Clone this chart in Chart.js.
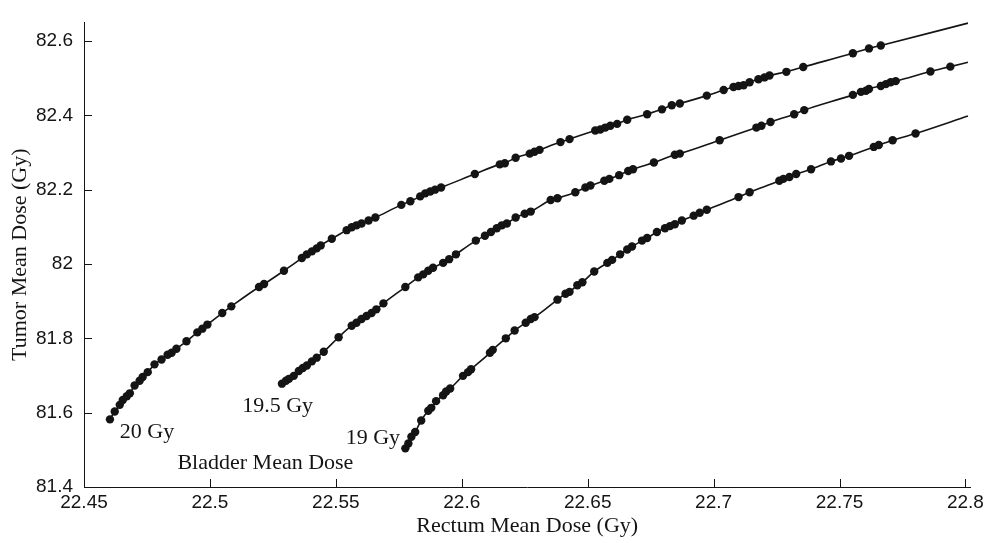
<!DOCTYPE html>
<html>
<head>
<meta charset="utf-8">
<title>Tumor vs Rectum Mean Dose</title>
<script src="https://cdn.jsdelivr.net/npm/chart.js@4.4.1/dist/chart.umd.min.js"></script>
<style>
  html, body { margin: 0; padding: 0; background: #fff; }
  #wrap { width: 988px; height: 543px; }
</style>
</head>
<body>
<div id="wrap"><canvas id="doseChart" width="988" height="543"></canvas></div>
<script>
// Tradeoff curves, one per bladder mean dose level
const dose20X = [22.4603, 22.4622, 22.4642, 22.4654, 22.4670, 22.4682, 22.4701, 22.4721, 22.4733, 22.4753,
  22.4780, 22.4808, 22.4832, 22.4848, 22.4867, 22.4907, 22.4950, 22.4970, 22.4990, 22.5049,
  22.5085, 22.5195, 22.5215, 22.5294, 22.5365, 22.5385, 22.5405, 22.5424, 22.5440, 22.5484,
  22.5543, 22.5563, 22.5582, 22.5602, 22.5630, 22.5657, 22.5760, 22.5796, 22.5835, 22.5855,
  22.5875, 22.5894, 22.5918, 22.6052, 22.6151, 22.6171, 22.6214, 22.6270, 22.6289, 22.6309,
  22.6392, 22.6428, 22.6530, 22.6550, 22.6570, 22.6590, 22.6617, 22.6657, 22.6736, 22.6795,
  22.6834, 22.6866, 22.6973, 22.7040, 22.7079, 22.7099, 22.7119, 22.7143, 22.7178, 22.7202,
  22.7222, 22.7289, 22.7356, 22.7553, 22.7617, 22.7664, 22.8010];
const dose20Y = [81.582, 81.603, 81.621, 81.634, 81.644, 81.652, 81.673, 81.686, 81.696, 81.709,
  81.730, 81.743, 81.756, 81.761, 81.772, 81.792, 81.816, 81.826, 81.837, 81.868,
  81.886, 81.938, 81.946, 81.982, 82.016, 82.026, 82.034, 82.042, 82.050, 82.068,
  82.091, 82.099, 82.104, 82.109, 82.117, 82.125, 82.159, 82.169, 82.182, 82.190,
  82.195, 82.200, 82.206, 82.242, 82.268, 82.271, 82.286, 82.297, 82.302, 82.307,
  82.328, 82.336, 82.359, 82.362, 82.367, 82.372, 82.377, 82.388, 82.403, 82.416,
  82.427, 82.432, 82.453, 82.468, 82.476, 82.479, 82.481, 82.489, 82.497, 82.502,
  82.507, 82.517, 82.530, 82.567, 82.580, 82.588, 82.648];

const dose195X = [22.5286, 22.5302, 22.5314, 22.5333, 22.5353, 22.5369, 22.5385, 22.5405, 22.5424, 22.5452,
  22.5511, 22.5563, 22.5582, 22.5602, 22.5622, 22.5642, 22.5661, 22.5689, 22.5776, 22.5827,
  22.5847, 22.5867, 22.5886, 22.5926, 22.5950, 22.5977, 22.6056, 22.6092, 22.6116, 22.6139,
  22.6159, 22.6179, 22.6214, 22.6250, 22.6274, 22.6353, 22.6380, 22.6451, 22.6491, 22.6511,
  22.6566, 22.6586, 22.6625, 22.6661, 22.6680, 22.6763, 22.6846, 22.6866, 22.7024, 22.7170,
  22.7190, 22.7226, 22.7320, 22.7360, 22.7553, 22.7585, 22.7605, 22.7617, 22.7664, 22.7684,
  22.7703, 22.7723, 22.7861, 22.7940, 22.8010];
const dose195Y = [81.678, 81.686, 81.691, 81.699, 81.712, 81.720, 81.727, 81.738, 81.748, 81.764,
  81.803, 81.834, 81.842, 81.852, 81.860, 81.868, 81.878, 81.894, 81.938, 81.964,
  81.972, 81.982, 81.990, 82.003, 82.013, 82.026, 82.063, 82.076, 82.086, 82.096,
  82.104, 82.109, 82.125, 82.135, 82.141, 82.172, 82.177, 82.193, 82.206, 82.211,
  82.224, 82.229, 82.239, 82.250, 82.255, 82.273, 82.294, 82.297, 82.333, 82.367,
  82.372, 82.382, 82.403, 82.414, 82.455, 82.463, 82.466, 82.471, 82.479, 82.484,
  82.489, 82.492, 82.518, 82.531, 82.543];

const dose19X = [22.5776, 22.5788, 22.5800, 22.5815, 22.5839, 22.5867, 22.5879, 22.5898, 22.5926, 22.5938,
  22.5954, 22.6005, 22.6025, 22.6037, 22.6112, 22.6123, 22.6175, 22.6210, 22.6254, 22.6274,
  22.6289, 22.6380, 22.6412, 22.6428, 22.6459, 22.6479, 22.6526, 22.6578, 22.6597, 22.6629,
  22.6657, 22.6676, 22.6716, 22.6736, 22.6775, 22.6807, 22.6827, 22.6846, 22.6874, 22.6921,
  22.6945, 22.6973, 22.7099, 22.7143, 22.7261, 22.7277, 22.7301, 22.7328, 22.7387, 22.7466,
  22.7506, 22.7538, 22.7636, 22.7656, 22.7711, 22.7802, 22.8010];
const dose19Y = [81.504, 81.517, 81.535, 81.548, 81.579, 81.605, 81.613, 81.631, 81.647, 81.657,
  81.665, 81.699, 81.709, 81.717, 81.761, 81.769, 81.800, 81.821, 81.842, 81.852,
  81.857, 81.904, 81.920, 81.925, 81.943, 81.951, 81.980, 82.003, 82.011, 82.026,
  82.039, 82.047, 82.063, 82.070, 82.086, 82.096, 82.102, 82.107, 82.117, 82.130,
  82.138, 82.146, 82.180, 82.193, 82.224, 82.229, 82.234, 82.242, 82.255, 82.276,
  82.284, 82.291, 82.315, 82.320, 82.333, 82.351, 82.398];

// Axis ticks
const xTicks = [22.45, 22.5, 22.55, 22.6, 22.65, 22.7, 22.75, 22.8];
const xTickLabels = ['22.45', '22.5', '22.55', '22.6', '22.65', '22.7', '22.75', '22.8'];
const yTicks = [81.4, 81.6, 81.8, 82, 82.2, 82.4, 82.6];
const yTickLabels = ['81.4', '81.6', '81.8', '82', '82.2', '82.4', '82.6'];

// In-plot text labels (left edge, vertical middle)
const noteText = ['20 Gy', '19.5 Gy', '19 Gy', 'Bladder Mean Dose'];
const noteX = [22.4642, 22.5128, 22.5539, 22.4871];
const noteY = [81.548, 81.618, 81.530, 81.465];

const INK = '#141414';
const SERIF = "'Liberation Serif', 'DejaVu Serif', serif";
const SANS = "'Liberation Sans', Arial, sans-serif";

const toPoints = (xs, ys) => xs.map((x, i) => ({ x, y: ys[i] }));

function curve(label, xs, ys) {
  const last = xs.length - 1;
  return {
    label,
    data: toPoints(xs, ys),
    showLine: true,
    borderColor: INK,
    borderWidth: 1.6,
    backgroundColor: INK,
    cubicInterpolationMode: 'monotone',
    // the line runs on past the last sampled plan, which gets no dot
    pointRadius: ctx => (ctx.dataIndex === last ? 0 : 4.2),
    pointBorderWidth: 0,
    clip: false
  };
}

// MATLAB-style ticks pointing into the plot
const innerTicks = {
  id: 'innerTicks',
  afterDatasetsDraw(chart) {
    const { ctx, chartArea: area, scales: { x, y } } = chart;
    ctx.save();
    ctx.strokeStyle = INK;
    ctx.lineWidth = 1;
    ctx.beginPath();
    xTicks.forEach(v => {
      const px = Math.round(x.getPixelForValue(v)) + 0.5;
      ctx.moveTo(px, area.bottom);
      ctx.lineTo(px, area.bottom - 8);
    });
    yTicks.forEach(v => {
      const py = Math.round(y.getPixelForValue(v)) + 0.5;
      ctx.moveTo(area.left, py);
      ctx.lineTo(area.left + 8, py);
    });
    ctx.stroke();
    ctx.restore();
  }
};

const curveNotes = {
  id: 'curveNotes',
  afterDatasetsDraw(chart) {
    const { ctx, scales: { x, y } } = chart;
    ctx.save();
    ctx.fillStyle = INK;
    ctx.font = `22px ${SERIF}`;
    ctx.textAlign = 'left';
    ctx.textBaseline = 'middle';
    noteText.forEach((t, i) => {
      ctx.fillText(t, x.getPixelForValue(noteX[i]), y.getPixelForValue(noteY[i]));
    });
    ctx.restore();
  }
};

new Chart(document.getElementById('doseChart'), {
  type: 'scatter',
  data: {
    datasets: [
      curve('20 Gy', dose20X, dose20Y),
      curve('19.5 Gy', dose195X, dose195Y),
      curve('19 Gy', dose19X, dose19Y)
    ]
  },
  options: {
    responsive: false,
    animation: false,
    layout: { padding: { left: 0, right: 13, top: 6, bottom: 0 } },
    plugins: { legend: { display: false }, tooltip: { enabled: false } },
    scales: {
      x: {
        type: 'linear',
        min: 22.45,
        max: 22.802,
        afterBuildTicks: s => { s.ticks = xTicks.map(value => ({ value })); },
        afterFit: s => { s.height = 56; },
        grid: { display: false, drawTicks: false },
        border: { display: true, color: INK, width: 1 },
        ticks: {
          color: INK,
          font: { family: SANS, size: 19 },
          padding: 4,
          maxRotation: 0,
          autoSkip: false,
          callback: (v, i) => xTickLabels[i]
        },
        title: {
          display: true,
          text: 'Rectum Mean Dose (Gy)',
          color: INK,
          font: { family: SERIF, size: 22 },
          padding: { top: 0, bottom: 4 }
        }
      },
      y: {
        type: 'linear',
        min: 81.4,
        max: 82.65,
        afterBuildTicks: s => { s.ticks = yTicks.map(value => ({ value })); },
        afterFit: s => { s.width = 84; },
        grid: { display: false, drawTicks: false },
        border: { display: true, color: INK, width: 1 },
        ticks: {
          color: INK,
          font: { family: SANS, size: 19 },
          padding: 11,
          autoSkip: false,
          callback: (v, i) => yTickLabels[i]
        },
        title: {
          display: true,
          text: 'Tumor Mean Dose (Gy)',
          color: INK,
          font: { family: SERIF, size: 22 },
          padding: { top: 7, bottom: 0 }
        }
      }
    }
  },
  plugins: [innerTicks, curveNotes]
});
</script>
</body>
</html>
